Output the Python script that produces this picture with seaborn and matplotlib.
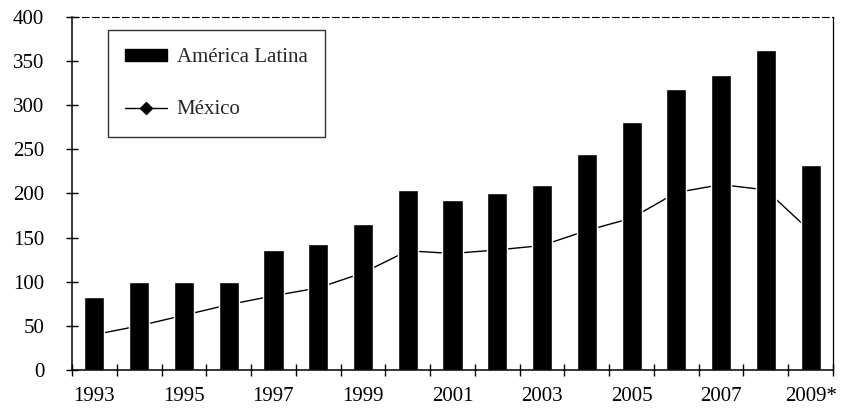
import numpy as np
import pandas as pd
import matplotlib
matplotlib.use("Agg")
import matplotlib.pyplot as plt
from matplotlib.lines import Line2D
from matplotlib.patches import Patch
from matplotlib.ticker import FixedLocator, MultipleLocator
import seaborn as sns

# Data
years = ["1993", "1994", "1995", "1996", "1997", "1998", "1999", "2000", "2001",
         "2002", "2003", "2004", "2005", "2006", "2007", "2008", "2009*"]
america_latina = [83, 100, 100, 100, 136, 143, 165, 204, 193, 201, 209, 245,
                  281, 318, 334, 363, 232]
mexico = [40, 50, 62, 74, 84, 93, 110, 135, 132, 136, 141, 158, 172, 201,
          210, 204, 157]
tick_labels = [y if i % 2 == 0 else "" for i, y in enumerate(years)]

df = pd.DataFrame({"anio": years, "al": america_latina, "mx": mexico})

sns.set_theme(style="white")
plt.rcParams["font.family"] = ["Liberation Serif", "DejaVu Serif"]

fig = plt.figure(figsize=(8.47, 4.12), dpi=100)
ax = fig.add_axes([0.085, 0.102, 0.8985, 0.857])

sns.lineplot(data=df, x="anio", y="mx", ax=ax, color="black", linewidth=1.0,
             marker="D", markersize=5, sort=False, zorder=1)
sns.barplot(data=df, x="anio", y="al", ax=ax, color="black", width=0.45,
            saturation=1, zorder=2)

ax.set_xlim(-0.5, len(years) - 0.5)
ax.set_ylim(0, 400)
ax.set_xlabel("")
ax.set_ylabel("")

# y axis
ax.yaxis.set_major_locator(MultipleLocator(50))
ax.tick_params(axis="y", which="major", direction="inout", length=8, width=1,
               color="black", labelsize=15, labelcolor="black", pad=16, left=True)

# x axis: labels at every other year, ticks between categories
ax.xaxis.set_major_locator(FixedLocator(np.arange(len(years))))
ax.set_xticklabels(tick_labels)
ax.xaxis.set_minor_locator(FixedLocator(np.arange(-0.5, len(years), 1.0)))
ax.tick_params(axis="x", which="major", length=0, labelsize=15,
               labelcolor="black", pad=12, bottom=True)
ax.tick_params(axis="x", which="minor", direction="inout", length=8, width=1,
               color="black", bottom=True)

for side in ["left", "bottom", "right"]:
    ax.spines[side].set_visible(True)
    ax.spines[side].set_color("black")
    ax.spines[side].set_linewidth(1.1)
ax.spines["right"].set_linewidth(0.9)
ax.spines["top"].set_visible(True)
ax.spines["top"].set_color("black")
ax.spines["top"].set_linewidth(0.8)
ax.spines["top"].set_linestyle((0, (6, 3)))

handles = [
    Patch(facecolor="black", edgecolor="black", label="América Latina"),
    Line2D([0], [0], color="black", linewidth=1.0, marker="D", markersize=6,
           label="México"),
]
leg = ax.legend(handles=handles, loc="upper left", bbox_to_anchor=(0.047, 0.962),
                frameon=True, fancybox=False, edgecolor="black", fontsize=15,
                handlelength=2.0, handleheight=0.5, labelspacing=1.6,
                borderpad=0.85, handletextpad=0.45, borderaxespad=0)
leg.get_frame().set_linewidth(1.0)

fig.savefig("out.png", dpi=100, facecolor="white")
